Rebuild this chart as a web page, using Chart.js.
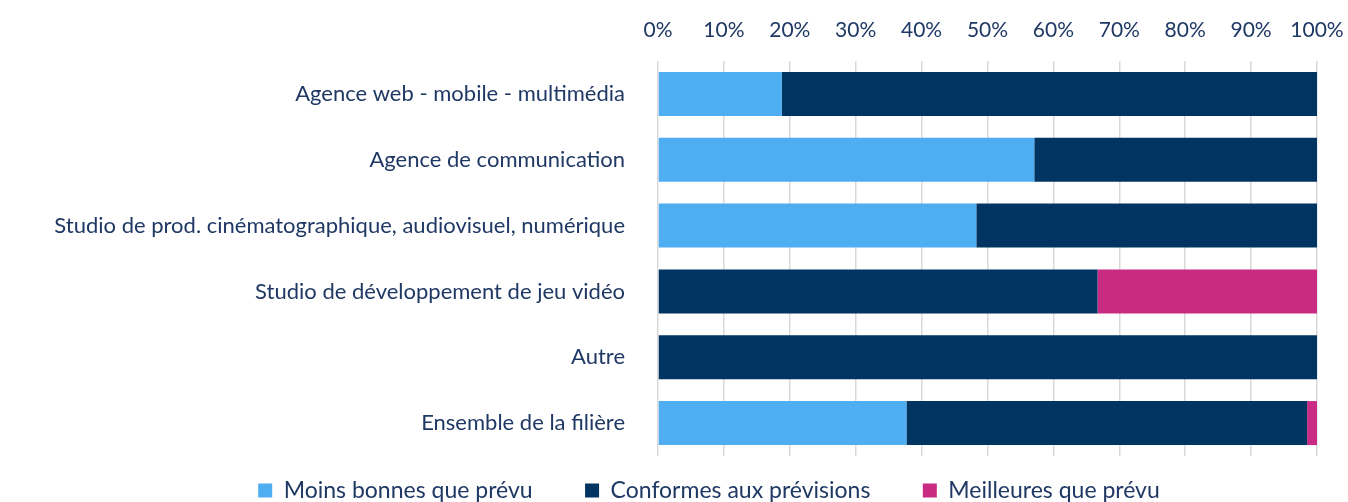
<!DOCTYPE html>
<html>
<head>
<meta charset="utf-8">
<script src="https://cdn.jsdelivr.net/npm/chart.js@4/dist/chart.umd.min.js"></script>
<style>
  html, body { margin: 0; padding: 0; background: #fff; }
  #wrap { width: 1348px; height: 502px; }
</style>
</head>
<body>
<div id="wrap"><canvas id="chart" width="1348" height="502"></canvas></div>
<script>
// catégories (de haut en bas)
var categories = [
  'Agence web - mobile - multimédia',
  'Agence de communication',
  'Studio de prod. cinématographique, audiovisuel, numérique',
  'Studio de développement de jeu vidéo',
  'Autre',
  'Ensemble de la filière'
];
var moinsBonnes = [18.8, 57.1, 48.3, 0, 0, 37.7];
var conformes = [81.2, 42.9, 51.7, 66.7, 100, 60.8];
var meilleures = [0, 0, 0, 33.3, 0, 1.5];
var tickLabels = ['0%', '10%', '20%', '30%', '40%', '50%', '60%', '70%', '80%', '90%', '100%'];

var textColor = '#1f3864';
var fontFamily = 'Lato, sans-serif';

// décale la légende vers la droite (centrée comme dans l'original)
var legendShift = {
  id: 'legendShift',
  afterLayout: function(chart) {
    chart.legend.left += 101;
    chart.legend.width -= 101;
  }
};

var ctx = document.getElementById('chart');
var myChart = new Chart(ctx, {
  type: 'bar',
  data: {
    labels: categories,
    datasets: [
      { label: 'Moins bonnes que prévu', data: moinsBonnes, backgroundColor: '#4fadf2' },
      { label: 'Conformes aux prévisions', data: conformes, backgroundColor: '#003461' },
      { label: 'Meilleures que prévu', data: meilleures, backgroundColor: '#c92a82' }
    ]
  },
  plugins: [legendShift],
  options: {
    indexAxis: 'y',
    responsive: false,
    animation: false,
    categoryPercentage: 0.668,
    barPercentage: 1,
    layout: { padding: { left: 0, right: 31, top: 0, bottom: 0 } },
    plugins: {
      legend: {
        position: 'bottom',
        maxHeight: 46,
        labels: {
          color: textColor,
          font: { family: fontFamily, size: 23 },
          boxWidth: 14,
          boxHeight: 14,
          padding: 23,
          // espace plus large entre les entrées
          generateLabels: function(chart) {
            var items = Chart.defaults.plugins.legend.labels.generateLabels(chart);
            items.forEach(function(it, i) {
              if (i < items.length - 1) it.text += '\u00a0'.repeat(5);
            });
            return items;
          }
        }
      },
      tooltip: { enabled: false }
    },
    scales: {
      x: {
        position: 'top',
        stacked: true,
        min: 0,
        max: 100,
        grid: { color: '#d9d9d9', lineWidth: 1.5, drawTicks: false },
        border: { display: false },
        ticks: {
          stepSize: 10,
          padding: 18,
          color: textColor,
          font: { family: fontFamily, size: 21 },
          callback: function(v, i) { return tickLabels[i]; }
        },
        afterFit: function(scale) {
          scale.height = 61;
          scale.paddingLeft = 0;
          scale.paddingRight = 0;
        }
      },
      y: {
        stacked: true,
        grid: { display: false },
        border: { display: false },
        ticks: {
          padding: 25,
          color: textColor,
          font: { family: fontFamily, size: 22 }
        },
        afterFit: function(scale) { scale.width = 658; }
      }
    }
  }
});
</script>
</body>
</html>
